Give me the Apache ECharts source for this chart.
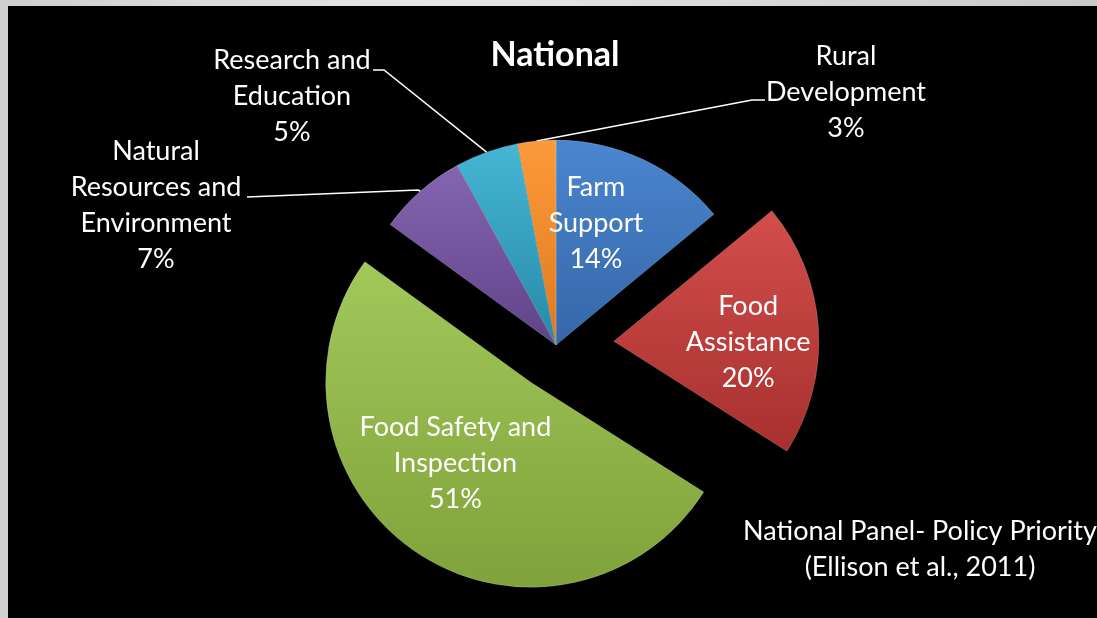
<!DOCTYPE html>
<html>
<head>
<meta charset="utf-8">
<title>National</title>
<script src="https://cdn.jsdelivr.net/npm/echarts@6/dist/echarts.min.js"></script>
<style>
  html, body { margin: 0; padding: 0; width: 100%; height: 100%; background: #d4d4d4; }
  #frame { position: absolute; left: 0; top: 0; width: 1097px; height: 618px;
           background: linear-gradient(90deg, #cfcfcf, #e6e6e6 40%, #c9c9c9); }
  #chart { position: absolute; left: 8px; top: 6px; width: 1089px; height: 612px; background: #000; }
</style>
</head>
<body>
<div id="frame"></div>
<div id="chart"></div>
<script>
// Policy priority shares, national panel
const categories = [
  'Farm Support',
  'Food Assistance',
  'Food Safety and Inspection',
  'Natural Resources and Environment',
  'Research and Education',
  'Rural Development'
];
const shares = [14, 20, 51, 7, 5, 3];
// how each category name is broken onto lines in its label
const labelNames = [
  'Farm\nSupport',
  'Food\nAssistance',
  'Food Safety and\nInspection',
  'Natural\nResources and\nEnvironment',
  'Research and\nEducation',
  'Rural\nDevelopment'
];

const FONT = 'Lato, "Open Sans", sans-serif';

// Office-style palette, lighter at the top, darker below
const palette = [
  ['#4a86cf', '#3566a8'],
  ['#d24e4b', '#a7302f'],
  ['#a2c85a', '#7fa23a'],
  ['#8466b0', '#5f4388'],
  ['#45b6d4', '#2789a8'],
  ['#fb9a3c', '#e07a1c']
];

// Two layers share one layout: each pulls out its own slice by its own amount.
// The slices a layer does not own are left invisible.
const layers = [
  { owns: [0, 1, 3, 4, 5], pulled: 1, offset: 58 },
  { owns: [2], pulled: 2, offset: 45 }
];

// inner label nudges (pixels from the default spot)
const innerShift = {
  0: { dx: -5, dy: -26 },
  1: { dx: 29, dy: 8 },
  2: { dx: -16, dy: -6 }
};

// outer label spots and leader line bends (chart-div pixels)
const outerSpots = {
  3: { x: 148, y: 199, bend: [410, 184], end: [239, 191] },
  4: { x: 284, y: 90, bend: [376, 64], end: [365, 64] },
  5: { x: 838, y: 86, bend: [744, 94], end: [757, 94] }
};

const chart = echarts.init(document.getElementById('chart'));

function buildData(layer) {
  return shares.map(function (v, i) {
    const mine = layer.owns.indexOf(i) >= 0;
    const item = { name: categories[i], value: v };
    if (!mine) {
      item.itemStyle = { color: 'rgba(0,0,0,0)', borderWidth: 0 };
      item.label = { show: false };
      item.labelLine = { show: false };
      return item;
    }
    item.itemStyle = {
      color: new echarts.graphic.LinearGradient(0, 0, 0, 1, [
        { offset: 0, color: palette[i][0] },
        { offset: 1, color: palette[i][1] }
      ]),
      borderColor: 'rgba(255,255,255,0.18)',
      borderWidth: 1
    };
    if (i === layer.pulled) item.selected = true;
    if (outerSpots[i]) {
      item.label = { position: 'outside' };
      item.labelLine = { show: true, length: 20, length2: 20 };
    } else {
      item.label = { position: 'inside' };
      item.labelLine = { show: false };
    }
    return item;
  });
}

function labelLayout(p) {
  const i = p.dataIndex;
  if (innerShift[i]) {
    return { dx: innerShift[i].dx, dy: innerShift[i].dy };
  }
  const s = outerSpots[i];
  if (!s) return {};
  const edge = p.labelLinePoints && p.labelLinePoints[0];
  const pts = edge ? [edge, s.bend, s.end] : [s.bend, s.end];
  return {
    x: s.x, y: s.y,
    align: 'center', verticalAlign: 'middle',
    labelLinePoints: pts
  };
}

const series = layers.map(function (layer) {
  return {
    type: 'pie',
    center: [548, 339],
    radius: [0, 205],
    startAngle: 90,
    clockwise: true,
    selectedMode: 'multiple',
    selectedOffset: layer.offset,
    avoidLabelOverlap: false,
    data: buildData(layer),
    label: {
      show: true,
      color: '#fff',
      fontFamily: FONT,
      fontSize: 27,
      lineHeight: 36,
      align: 'center',
      formatter: function (p) {
        return labelNames[p.dataIndex] + '\n' + p.value + '%';
      }
    },
    labelLine: {
      lineStyle: { color: '#fff', width: 1.5 }
    },
    emphasis: { disabled: true },
    labelLayout: labelLayout
  };
});

chart.setOption({
  backgroundColor: '#000',
  animation: false,
  title: [
    {
      text: 'National',
      left: 542, top: 27, textAlign: 'center',
      textStyle: { color: '#fff', fontFamily: FONT, fontSize: 34, fontWeight: 'bold' }
    },
    {
      text: 'National Panel- Policy Priority\n(Ellison et al., 2011)',
      left: 907, top: 502, textAlign: 'center',
      textStyle: { color: '#fff', fontFamily: FONT, fontSize: 27, fontWeight: 'normal', lineHeight: 36 }
    }
  ],
  series: series
});
</script>
</body>
</html>
